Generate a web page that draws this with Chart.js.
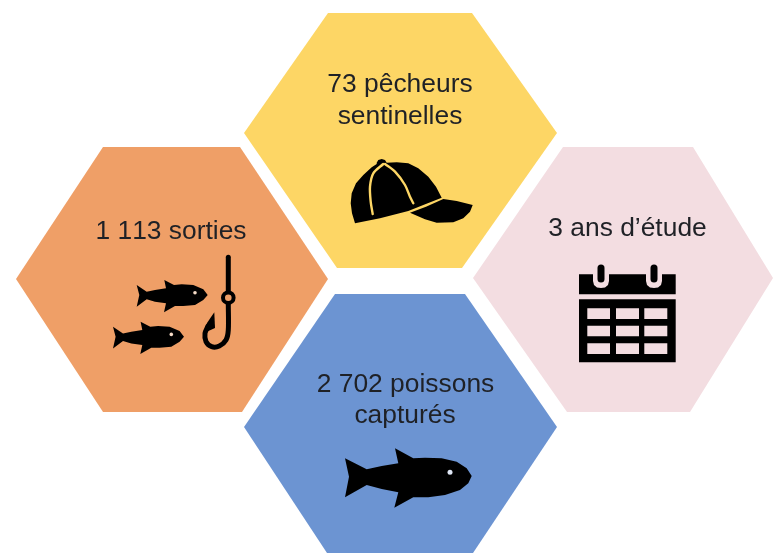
<!DOCTYPE html>
<html lang="fr">
<head>
<meta charset="utf-8">
<title>Pêcheurs sentinelles</title>
<script src="https://cdn.jsdelivr.net/npm/chart.js@4/dist/chart.umd.min.js"></script>
<style>
  html, body { margin: 0; padding: 0; background: #ffffff; }
  canvas { display: block; filter: blur(0.6px); }
</style>
</head>
<body>
<canvas id="myChart" width="773" height="553"></canvas>
<script>

// Hexagones
const hexYellow = [[328,13],[472,13],[557,133],[462,268],[337,268],[244,133]];
const hexOrange = [[103,147],[240,147],[328,279],[242,412],[103,412],[16,279]];
const hexPink = [[563,147],[693,147],[773,278],[690,412],[567,412],[473,278]];
const hexBlue = [[335,294],[465,294],[557,427],[473,553],[327,553],[244,427]];

// Casquette
const capBody = [[355,223.3],[352,213.3],[350.7,203.3],[351.7,193.3],[356,183.3],[363.3,175],[371.7,167.3],[376.7,164],[376.7,162.7],[378.3,160],[381.7,159],[385,160],[386.7,162.7],[396.7,162.3],[408.3,163.3],[418.3,168.3],[428.3,176.7],[436,186.7],[441.7,197.7],[423.3,205],[408.3,211],[380,218.3]];
const capBrim = [[443.3,199],[456.7,201],[472.7,205],[470,211.7],[463.3,218.3],[453.3,222.3],[436.7,222.7],[425,219.3],[410,212.8],[426,206.8]];
const capSeamLeft = [[383.3,164],[373.3,173.3],[370,186.7],[370.7,201.7],[372.7,214]];
const capSeamRight = [[385,164],[395,171.7],[405,185],[410,196.7],[413.3,203.3]];

// Poissons
const fishBig = [[471.7,476],[466.7,468.3],[456.7,461.7],[441.7,458.3],[425,457.7],[413.3,458.3],[395,448.3],[398.3,463.3],[381.7,466],[366.7,469.3],[345,458.3],[349,476.7],[345,497.3],[366.7,485],[381.7,489],[398.3,492.3],[394.3,507.7],[413.3,497.3],[428.3,497.3],[445,495],[460,490],[468.3,483.3]];
const fishTop = [[207.7,295],[203.3,289.3],[193.3,285],[181.7,284.3],[174,285],[164.3,280],[166,288.3],[155,290],[146.7,291.7],[136.7,285],[139.3,295],[136.7,306.7],[146.7,299.3],[155,301.7],[166,303.3],[164,312.3],[175,306],[183.3,306],[195,305],[203.3,300]];
const fishBottom = [[184,336.7],[179.6,331],[169.6,326.7],[158,326],[150.3,326.7],[140.6,321.7],[142.3,330],[131.3,331.7],[123,333.4],[113,326.7],[115.6,336.7],[113,348.4],[123,341],[131.3,343.4],[142.3,345],[140.3,354],[151.3,347.7],[159.6,347.7],[171.3,346.7],[179.6,341.7]];
const eyeBig = [[450,472.3]];
const eyeTop = [[195,292.7]];
const eyeBottom = [[171.3,334.4]];

// Hamecon
const hookShank = [[228.3,257.3],[228.3,292]];
const hookCurve = [[228.3,304],[228.3,330],[226,340],[219.3,346],[211.7,346.7],[206,341.7],[205,333.3],[208,326]];
const hookBarb = [[214.3,312.3],[215,328],[204,333],[207,323]];
const hookRing = [[228.3,297.7]];

// Calendrier
const calTop = [[579,274.3],[593,274.3],[593,281],[594,285],[597,287.5],[601,288],[605,287.5],[608,285],[609,281],[609,274.3],[646,274.3],[646,281],[647,285],[650,287.5],[654,288],[658,287.5],[661,285],[662,281],[662,274.3],[675.7,274.3],[675.7,294.3],[579,294.3]];
const calBody = [[579,299.3],[675.7,299.3],[675.7,362.3],[579,362.3]];
const calPegLeft = [[601,268],[601,279]];
const calPegRight = [[654,268],[654,279]];
const calCells = [
    [[587.3,308.3],[610,308.3],[610,319],[587.3,319]],
    [[616,308.3],[639,308.3],[639,319],[616,319]],
    [[644.3,308.3],[667.3,308.3],[667.3,319],[644.3,319]],
    [[587.3,325.7],[610,325.7],[610,336.3],[587.3,336.3]],
    [[616,325.7],[639,325.7],[639,336.3],[616,336.3]],
    [[644.3,325.7],[667.3,325.7],[667.3,336.3],[644.3,336.3]],
    [[587.3,343.3],[610,343.3],[610,354],[587.3,354]],
    [[616,343.3],[639,343.3],[639,354],[616,354]],
    [[644.3,343.3],[667.3,343.3],[667.3,354],[644.3,354]]
];

// Textes
const labelTexts = ['73 pêcheurs', 'sentinelles', '1 113 sorties', '3 ans d’étude', '2 702 poissons', 'capturés'];
const labelX = [400, 400, 171, 627.5, 405.5, 405];
const labelY = [92, 124, 238.7, 236, 391.7, 423];

const yellow = '#fdd665';
const orange = '#ef9f67';
const pink = '#f3dde1';
const blue = '#6c94d2';
const black = '#000000';

const toPoints = (list) => list.map(p => ({ x: p[0], y: p[1] }));

// Surface pleine
const shape = (list, color) => ({
    data: toPoints(list),
    showLine: true,
    fill: 'shape',
    backgroundColor: color,
    borderWidth: 0,
    pointRadius: 0,
    tension: 0
});

// Trait
const stroke = (list, color, width) => ({
    data: toPoints(list),
    showLine: true,
    fill: false,
    borderColor: color,
    borderWidth: width,
    borderCapStyle: 'round',
    pointRadius: 0,
    tension: 0.3
});

// Point rond
const dot = (list, color, radius, edge, edgeWidth) => ({
    data: toPoints(list),
    showLine: false,
    pointRadius: radius,
    pointBackgroundColor: color,
    pointBorderColor: edge,
    pointBorderWidth: edgeWidth
});

// Du fond vers l'avant
const layers = [
    shape(hexYellow, yellow),
    shape(hexOrange, orange),
    shape(hexPink, pink),
    shape(hexBlue, blue),
    shape(capBody, black),
    shape(capBrim, black),
    stroke(capSeamLeft, yellow, 2.4),
    stroke(capSeamRight, yellow, 2.4),
    shape(fishBig, black),
    shape(fishTop, black),
    shape(fishBottom, black),
    dot(eyeBig, '#dfe6f5', 2.5, 'transparent', 0),
    dot(eyeTop, '#f6dcc8', 1.8, 'transparent', 0),
    dot(eyeBottom, '#f6dcc8', 1.8, 'transparent', 0),
    stroke(hookShank, black, 5),
    stroke(hookCurve, black, 5),
    shape(hookBarb, black),
    dot(hookRing, orange, 5.3, black, 4),
    shape(calTop, black),
    shape(calBody, black),
    stroke(calPegLeft, black, 7),
    stroke(calPegRight, black, 7),
    ...calCells.map(cell => shape(cell, pink))
];

// Le premier dessine reste au fond
layers.forEach((layer, i) => { layer.order = layers.length - i; });

const labelsPlugin = {
    id: 'labelsPlugin',
    afterDatasetsDraw(chart) {
        const { ctx, scales } = chart;
        ctx.save();
        ctx.font = '26.4px "Liberation Sans", Arial, sans-serif';
        ctx.fontKerning = 'none';
        ctx.fillStyle = '#1f2126';
        ctx.textAlign = 'center';
        ctx.textBaseline = 'alphabetic';
        labelTexts.forEach((text, i) => {
            ctx.fillText(text, scales.x.getPixelForValue(labelX[i]), scales.y.getPixelForValue(labelY[i]));
        });
        ctx.restore();
    }
};

new Chart(document.getElementById('myChart'), {
    type: 'scatter',
    data: { datasets: layers },
    plugins: [labelsPlugin],
    options: {
        responsive: false,
        animation: false,
        layout: { padding: 0, autoPadding: false },
        plugins: {
            legend: { display: false },
            tooltip: { enabled: false }
        },
        scales: {
            x: { type: 'linear', display: false, min: 0, max: 773 },
            y: { type: 'linear', display: false, min: 0, max: 553, reverse: true }
        }
    }
});

</script>
</body>
</html>
